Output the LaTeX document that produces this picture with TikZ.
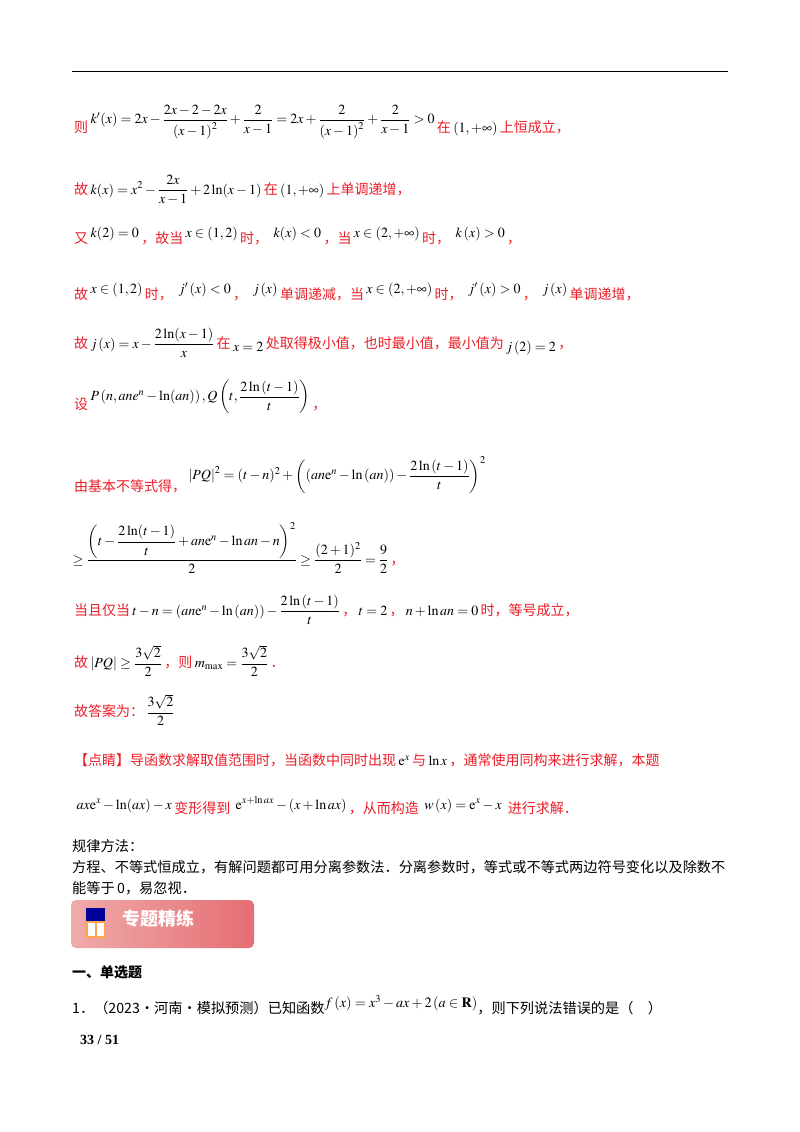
\documentclass[tikz,border=0pt]{standalone}
\usepackage{amsmath,amssymb}
\usepackage{mathptmx}
\usepackage{fontspec}
\setmainfont{Liberation Serif}
\newfontfamily\cjk{Noto Sans CJK SC}
\usetikzlibrary{shadings}
\definecolor{rd}{RGB}{235,30,40}
\definecolor{pk1}{RGB}{240,170,170}
\definecolor{pk2}{RGB}{228,110,115}
\begin{document}
\begin{tikzpicture}[x=1pt,y=-1pt,
  ln/.style={anchor=west,inner sep=0pt,text=rd,font=\fontsize{14}{16}\selectfont\cjk},
  bk/.style={anchor=west,inner sep=0pt,text=black,font=\fontsize{14.2}{16}\selectfont\cjk}]
\useasboundingbox (0,0) rectangle (800,1132);
\fill[white] (0,0) rectangle (800,1132);
\draw[line width=1pt] (72,72) -- (728,72);

\newcommand{\bl}[1]{\,\textcolor{black}{$#1$}\,}

\node[ln] (l1) at (74,122) {则\raisebox{1.2ex}{\bl{k'(x)=2x-\dfrac{2x-2-2x}{\left(x-1\right)^2}+\dfrac{2}{x-1}=2x+\dfrac{2}{\left(x-1\right)^2}+\dfrac{2}{x-1}>0}}在\bl{\left(1,+\infty\right)}上恒成立，};
\node[ln] (l2) at (74,190) {故\bl{k(x)=x^2-\dfrac{2x}{x-1}+2\ln(x-1)}在\bl{\left(1,+\infty\right)}上单调递增，};
\node[ln] (l3) at (74,236) {又\raisebox{0.8ex}{\bl{k(2)=0}}，故当\raisebox{0.8ex}{\bl{x\in\left(1,2\right)}}时，\raisebox{0.8ex}{\bl{\;k(x)<0}}，当\raisebox{0.8ex}{\bl{x\in\left(2,+\infty\right)}}时，\raisebox{0.8ex}{\bl{\;k\left(x\right)>0}}，};
\node[ln] (l4) at (74,292) {故\raisebox{0.8ex}{\bl{x\in\left(1,2\right)}}时，\raisebox{0.8ex}{\bl{\;j'\left(x\right)<0}}，\raisebox{0.8ex}{\bl{\;j\left(x\right)}}单调递减，当\raisebox{0.8ex}{\bl{x\in\left(2,+\infty\right)}}时，\raisebox{0.8ex}{\bl{\;j'\left(x\right)>0}}，\raisebox{0.8ex}{\bl{\;j\left(x\right)}}单调递增，};
\node[ln] (l5) at (74,343) {故\bl{j\left(x\right)=x-\dfrac{2\ln(x-1)}{x}}在\raisebox{-0.5ex}{\bl{x=2}}处取得极小值，也时最小值，最小值为\raisebox{-0.5ex}{\bl{j\left(2\right)=2}}，};
\node[ln] (l6) at (74,397) {设\raisebox{1.2ex}{\bl{P\left(n,ane^n-\ln(an)\right),Q\left(t,\dfrac{2\ln\left(t-1\right)}{t}\right)}}，};
\node[ln] (l7) at (74,475) {由基本不等式得，\raisebox{1.6ex}{\bl{\left|PQ\right|^2=(t-n)^2+\left(\left(an\mathrm{e}^n-\ln\left(an\right)\right)-\dfrac{2\ln\left(t-1\right)}{t}\right)^2}}};
\node[ln] (l8) at (70,548) {\bl{\geq\dfrac{\left(t-\dfrac{2\ln(t-1)}{t}+an\mathrm{e}^n-\ln an-n\right)^2}{2}\geq\dfrac{(2+1)^2}{2}=\dfrac{9}{2}}，};
\node[ln] (l9) at (74,610) {当且仅当\bl{t-n=\left(an\mathrm{e}^n-\ln\left(an\right)\right)-\dfrac{2\ln\left(t-1\right)}{t}}，\bl{t=2}，\bl{n+\ln an=0}时，等号成立，};
\node[ln] (l10) at (74,661) {故\bl{\left|PQ\right|\geq\dfrac{3\sqrt2}{2}}，则\bl{m_{\max}=\dfrac{3\sqrt2}{2}}．};
\node[ln] (l11) at (74,710) {故答案为：\bl{\dfrac{3\sqrt2}{2}}};
\node[ln] (l12) at (74,760) {【点睛】导函数求解取值范围时，当函数中同时出现\bl{\mathrm{e}^x}与\bl{\ln x}，通常使用同构来进行求解，本题};
\node[ln] (l13) at (74,806) {\raisebox{0.6ex}{\bl{ax\mathrm{e}^x-\ln(ax)-x}}变形得到\raisebox{0.6ex}{\bl{\;\mathrm{e}^{x+\ln ax}-\left(x+\ln ax\right)}}，从而构造\raisebox{0.6ex}{\bl{\;w\left(x\right)=\mathrm{e}^x-x}}\;进行求解．};

\node[bk] (g1) at (72,846) {规律方法：};
\node[bk] (g2) at (72,867) {方程、不等式恒成立，有解问题都可用分离参数法．分离参数时，等式或不等式两边符号变化以及除数不};
\node[bk] (g3) at (72,888) {能等于\,0，易忽视．};

\shade[left color=pk1,right color=pk2,rounded corners=5pt] (71,900) rectangle (254,948);
\fill[orange!70] (86,921) rectangle (106,938);
\fill[white] (88,923) rectangle (95,936);
\fill[white] (97,923) rectangle (104,936);
\fill[blue!60!black] (86,908) rectangle (105,921);
\node[anchor=west,inner sep=0pt,text=white,font=\fontsize{18}{20}\selectfont\cjk\bfseries] (bt) at (122,919) {专题精练};

\node[bk,font=\fontsize{14}{16}\selectfont\cjk\bfseries] (h1) at (72,972) {一、单选题};
\node[bk] (q1) at (72,1005) {1．（2023·河南·模拟预测）已知函数\raisebox{0.8ex}{$f\left(x\right)=x^3-ax+2\left(a\in\mathbf{R}\right)$}，则下列说法错误的是（\quad）};
\node[bk,font=\fontsize{14}{16}\selectfont\bfseries] (pg) at (80,1040) {33 / 51};
\end{tikzpicture}
\end{document}
